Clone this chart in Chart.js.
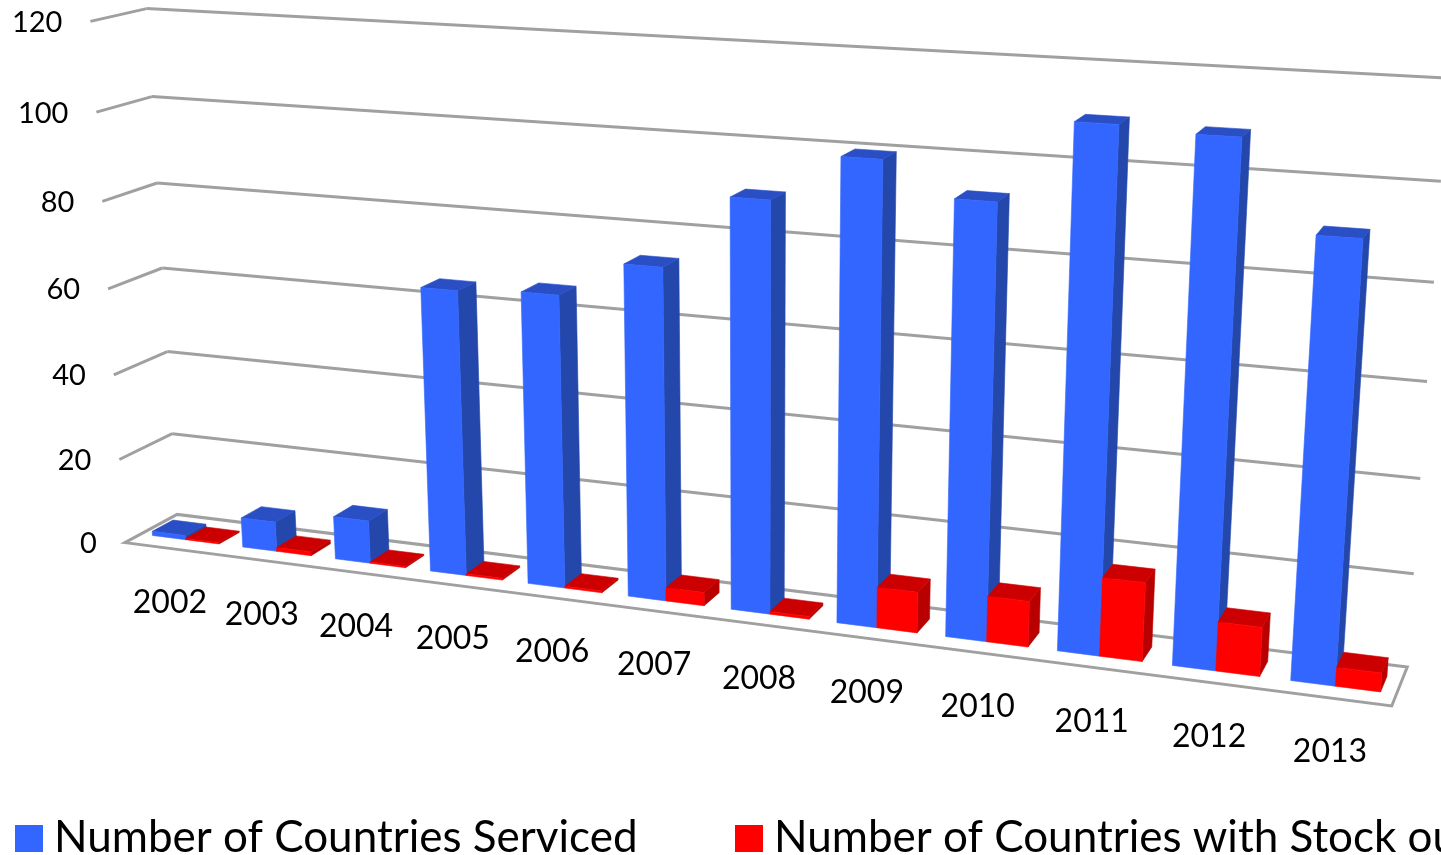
<!DOCTYPE html>
<html>
<head>
<meta charset="utf-8">
<style>html,body{margin:0;padding:0;background:#fff;overflow:hidden}canvas{display:block}</style>
<script src="https://cdn.jsdelivr.net/npm/chart.js@4"></script>
</head>
<body>
<canvas id="c" width="1441" height="855"></canvas>
<script>
const years = ['2002','2003','2004','2005','2006','2007','2008','2009','2010','2011','2012','2013'];
const serviced = [1,7,10,65,66,74,90,100,93,110,109,91];
const stockOut = [0.3,0.9,0.3,0.4,0.4,3,0.6,9,10,17,10.5,4];
const yTicks = [0,20,40,60,80,100,120];
const seriesNames = ['Number of Countries Serviced','Number of Countries with Stock out'];

// Camera calibration: box corner (u,v,d) -> page position.
const calib = [
  [0,0,0,125,542],[1,0,0,1392,706],[1,0,1,1407,667],[0,0,1,177,515],
  [0,1,1,147,8],[0,1,0,90,22],[1,1,1,1448,78]
];
function solveCamera(pts){
  const n=11,A=Array.from({length:n},()=>new Array(n+1).fill(0));
  const add=(r,b)=>{for(let i=0;i<n;i++){for(let j=0;j<n;j++)A[i][j]+=r[i]*r[j];A[i][n]+=r[i]*b;}};
  for(const [X,Y,Z,px,py] of pts){
    const x=px/1000,y=py/1000;
    add([X,Y,Z,1,0,0,0,0,-x*X,-x*Y,-x*Z],x);
    add([0,0,0,0,X,Y,Z,1,-y*X,-y*Y,-y*Z],y);
  }
  for(let i=0;i<n;i++){
    let m=i;for(let k=i+1;k<n;k++)if(Math.abs(A[k][i])>Math.abs(A[m][i]))m=k;
    [A[i],A[m]]=[A[m],A[i]];
    for(let k=0;k<n;k++){if(k===i)continue;const f=A[k][i]/A[i][i];for(let j=i;j<=n;j++)A[k][j]-=f*A[i][j];}
  }
  return A.map((r,i)=>r[n]/r[i]);
}
const cam=solveCamera(calib);
function proj(u,v,d){
  const w=cam[8]*u+cam[9]*v+cam[10]*d+1;
  return [1000*(cam[0]*u+cam[1]*v+cam[2]*d+cam[3])/w,1000*(cam[4]*u+cam[5]*v+cam[6]*d+cam[7])/w];
}
function poly(ctx,pts,fill){
  ctx.beginPath();pts.forEach((p,i)=>i?ctx.lineTo(p[0],p[1]):ctx.moveTo(p[0],p[1]));ctx.closePath();
  ctx.fillStyle=fill;ctx.fill();ctx.strokeStyle=fill;ctx.lineWidth=0.6;ctx.stroke();
}
function line(ctx,a,b){ctx.beginPath();ctx.moveTo(a[0],a[1]);ctx.lineTo(b[0],b[1]);ctx.stroke();}

const BAR_D0=0.3,BAR_D1=0.7;
const shades=[{front:'#3366ff',top:'#2a4fc4',side:'#2347ab'},{front:'#ff0000',top:'#cc0000',side:'#b80000'}];

const box3d={
  id:'box3d',
  beforeDatasetsDraw(chart){
    const ctx=chart.ctx,ys=chart.scales.y,a=chart.chartArea;
    ctx.save();ctx.strokeStyle='#a0a0a0';ctx.lineWidth=3;ctx.lineJoin='miter';
    for(const t of ys.ticks){
      const v=(a.bottom-ys.getPixelForValue(t.value))/a.height;
      if(t.value===0)continue;
      const f=proj(0,v,0),l=proj(0,v,1),r=proj(1,v,1);
      line(ctx,f,l);line(ctx,l,r);
    }
    ctx.beginPath();
    [[0,0,0],[1,0,0],[1,0,1],[0,0,1]].forEach((c,i)=>{const p=proj(c[0],c[1],c[2]);i?ctx.lineTo(p[0],p[1]):ctx.moveTo(p[0],p[1]);});
    ctx.closePath();ctx.stroke();
    ctx.restore();
    // bars: category by category, series left to right
    const U=x=>(x-a.left)/a.width,V=y=>(a.bottom-y)/a.height;
    ctx.save();
    chart.data.labels.forEach((_,i)=>{
      chart.data.datasets.forEach((ds,k)=>{
        const s=shades[k],p=chart.getDatasetMeta(k).data[i].getProps(['x','y','base','width'],true);
        const u0=U(p.x-p.width/2),u1=U(p.x+p.width/2),v0=V(p.base),v1=V(p.y);
        poly(ctx,[proj(u1,v0,BAR_D0),proj(u1,v0,BAR_D1),proj(u1,v1,BAR_D1),proj(u1,v1,BAR_D0)],s.side);
        poly(ctx,[proj(u0,v1,BAR_D0),proj(u1,v1,BAR_D0),proj(u1,v1,BAR_D1),proj(u0,v1,BAR_D1)],s.top);
        poly(ctx,[proj(u0,v0,BAR_D0),proj(u1,v0,BAR_D0),proj(u1,v1,BAR_D0),proj(u0,v1,BAR_D0)],s.front);
      });
    });
    ctx.restore();
  },
  beforeDatasetDraw(){return false;},
  afterDatasetsDraw(chart){
    const ctx=chart.ctx,a=chart.chartArea,xs=chart.scales.x,ys=chart.scales.y;
    ctx.save();ctx.fillStyle='#000';ctx.textBaseline='middle';
    ctx.textAlign='right';ctx.font='29px Lato';
    for(const t of ys.ticks){
      const v=(a.bottom-ys.getPixelForValue(t.value))/a.height,p=proj(0,v,0);
      ctx.fillText(String(t.value),p[0]-28,p[1]+1);
    }
    ctx.textAlign='center';ctx.font='32px Lato';
    xs.getLabels().forEach((lab,i)=>{
      const u=(xs.getPixelForValue(i)-a.left)/a.width,p=proj(u,0,0);
      ctx.fillText(lab,p[0],p[1]+54);
    });
    // legend
    const items=[[15,54],[735,774]];
    ctx.textAlign='left';ctx.textBaseline='alphabetic';ctx.font='44px Lato';
    chart.data.datasets.forEach((ds,i)=>{
      ctx.fillStyle=ds.backgroundColor;ctx.fillRect(items[i][0],825,28,27);
      ctx.fillStyle='#000';ctx.fillText(ds.label,items[i][1],852);
    });
    ctx.restore();
  }
};

new Chart(document.getElementById('c'),{
  type:'bar',
  data:{labels:years,datasets:[
    {label:seriesNames[0],data:serviced,backgroundColor:'#3366ff'},
    {label:seriesNames[1],data:stockOut,backgroundColor:'#ff0000'}
  ]},
  options:{
    responsive:false,animation:false,
    categoryPercentage:0.74,barPercentage:1,
    layout:{padding:0},
    plugins:{legend:{display:false},tooltip:{enabled:false}},
    scales:{
      x:{grid:{display:false},border:{display:false},ticks:{display:false}},
      y:{min:0,max:yTicks[yTicks.length-1],grid:{display:false},border:{display:false},ticks:{display:false,stepSize:yTicks[1]-yTicks[0]}}
    }
  },
  plugins:[box3d]
});
</script>
</body>
</html>
